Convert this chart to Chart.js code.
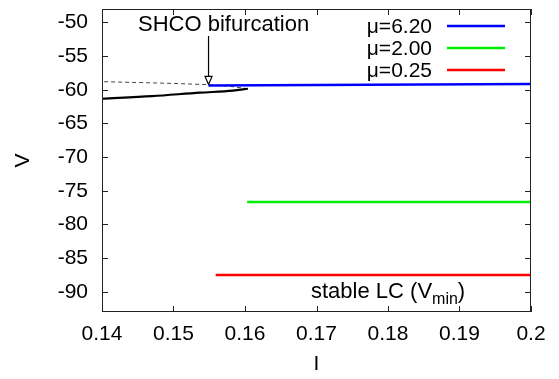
<!DOCTYPE html>
<html>
<head>
<meta charset="utf-8">
<script src="https://cdn.jsdelivr.net/npm/chart.js@4.4.0/dist/chart.umd.min.js"></script>
<style>
  html, body { margin: 0; padding: 0; background: #fff; }
</style>
</head>
<body>
<canvas id="chart" width="559" height="379"></canvas>
<script>
// Values
const xTickValues = [0.14, 0.15, 0.16, 0.17, 0.18, 0.19, 0.2];
const xTickLabels = ['0.14', '0.15', '0.16', '0.17', '0.18', '0.19', '0.2'];
const yTickValues = [-90, -85, -80, -75, -70, -65, -60, -55, -50];

// stable limit cycles (V min) for each mu
const muLabels = ['\u03bc=6.20', '\u03bc=2.00', '\u03bc=0.25'];
const blueI = [0.1549, 0.2];
const blueV = [-59.35, -59.15];
const greenI = [0.1603, 0.2];
const greenV = [-76.65, -76.65];
const redI = [0.1559, 0.2];
const redV = [-87.5, -87.5];

// fixed point branch: stable (solid) and unstable (dashed)
const stableI = [0.14, 0.147, 0.1537, 0.1583, 0.1604];
const stableV = [-61.33, -60.94, -60.43, -60.13, -59.84];
const unstableI = [0.1604, 0.158, 0.155, 0.15, 0.145, 0.14];
const unstableV = [-59.84, -59.5, -59.25, -59.05, -58.92, -58.79];

// SHCO bifurcation point
const shcoI = 0.1549;
const shcoV = -59.35;

const FONT = "'Liberation Sans', Arial, sans-serif";

function pts(xs, ys) {
    return xs.map((v, i) => ({ x: v, y: ys[i] }));
}

const overlay = {
    id: 'overlay',
    afterDraw(chart) {
        const { ctx, chartArea: a, scales: { x, y } } = chart;
        ctx.save();

        // frame
        ctx.strokeStyle = '#222';
        ctx.lineWidth = 1;
        ctx.strokeRect(a.left + 0.5, a.top + 0.5, a.right - a.left - 1, a.bottom - a.top - 1);

        // inward ticks on all four sides
        const tl = 6;
        ctx.beginPath();
        x.ticks.forEach(t => {
            const px = Math.round(x.getPixelForValue(t.value)) + 0.5;
            ctx.moveTo(px, a.bottom); ctx.lineTo(px, a.bottom - tl);
            ctx.moveTo(px, a.top); ctx.lineTo(px, a.top + tl);
        });
        y.ticks.forEach(t => {
            const py = Math.round(y.getPixelForValue(t.value)) + 0.5;
            ctx.moveTo(a.left, py); ctx.lineTo(a.left + tl, py);
            ctx.moveTo(a.right, py); ctx.lineTo(a.right - tl, py);
        });
        ctx.stroke();

        // legend: text right-aligned, sample line after it
        ctx.font = '21px ' + FONT;
        ctx.fillStyle = '#000';
        ctx.textAlign = 'right';
        ctx.textBaseline = 'middle';
        const rows = [26, 48, 70];
        chart.data.datasets.slice(0, 3).forEach((ds, i) => {
            ctx.fillText(ds.label, 432, rows[i] + 1);
            ctx.strokeStyle = ds.borderColor;
            ctx.lineWidth = 2.5;
            ctx.beginPath();
            ctx.moveTo(447, rows[i]);
            ctx.lineTo(505, rows[i]);
            ctx.stroke();
        });

        // SHCO bifurcation annotation + arrow
        const ax = x.getPixelForValue(shcoI);
        const ay = y.getPixelForValue(shcoV);
        ctx.font = '22px ' + FONT;
        ctx.textAlign = 'left';
        ctx.textBaseline = 'alphabetic';
        ctx.fillStyle = '#000';
        ctx.fillText('SHCO bifurcation', 138, 31);
        ctx.strokeStyle = '#000';
        ctx.lineWidth = 1.2;
        ctx.beginPath();
        ctx.moveTo(ax, 36);
        ctx.lineTo(ax, ay - 9);
        ctx.stroke();
        ctx.fillStyle = '#fff';
        ctx.beginPath();
        ctx.moveTo(ax - 3.5, ay - 9);
        ctx.lineTo(ax + 3.5, ay - 9);
        ctx.lineTo(ax, ay - 1);
        ctx.closePath();
        ctx.fill();
        ctx.stroke();

        // stable LC (V_min)
        ctx.fillStyle = '#000';
        ctx.font = '22px ' + FONT;
        const s1 = 'stable LC (V';
        ctx.fillText(s1, 311, 298);
        let cx = 311 + ctx.measureText(s1).width;
        ctx.font = '16px ' + FONT;
        ctx.fillText('min', cx, 304);
        cx += ctx.measureText('min').width;
        ctx.font = '22px ' + FONT;
        ctx.fillText(')', cx, 298);

        ctx.restore();
    }
};

new Chart(document.getElementById('chart'), {
    type: 'line',
    data: {
        datasets: [
            { label: muLabels[0], data: pts(blueI, blueV), borderColor: '#0000ff', borderWidth: 2.5 },
            { label: muLabels[1], data: pts(greenI, greenV), borderColor: '#00ee00', borderWidth: 2.5 },
            { label: muLabels[2], data: pts(redI, redV), borderColor: '#ff0000', borderWidth: 2.5 },
            { label: 'stable', data: pts(stableI, stableV), borderColor: '#000', borderWidth: 2.2, cubicInterpolationMode: 'monotone' },
            { label: 'unstable', data: pts(unstableI, unstableV), borderColor: '#444', borderWidth: 1, borderDash: [4, 3] }
        ]
    },
    options: {
        responsive: false,
        animation: false,
        elements: { point: { radius: 0 }, line: { tension: 0 } },
        layout: { padding: { top: 9, right: 28, left: 0, bottom: 0 } },
        plugins: { legend: { display: false }, tooltip: { enabled: false } },
        scales: {
            x: {
                type: 'linear',
                min: 0.14,
                max: 0.2,
                afterFit(s) { s.height = 67; s.paddingLeft = 0; s.paddingRight = 0; },
                afterBuildTicks(s) { s.ticks = xTickValues.map(v => ({ value: v })); },
                ticks: {
                    autoSkip: false,
                    maxRotation: 0,
                    padding: 10,
                    color: '#000',
                    font: { family: FONT, size: 21 },
                    callback: (v, i) => xTickLabels[i]
                },
                grid: { display: false, drawTicks: false },
                border: { display: false },
                title: { display: true, text: 'I', color: '#000', font: { family: FONT, size: 21 }, padding: { top: 0, bottom: 2 } }
            },
            y: {
                type: 'linear',
                min: -93,
                max: -48,
                afterFit(s) { s.width = 102; s.paddingTop = 0; s.paddingBottom = 0; },
                afterBuildTicks(s) { s.ticks = yTickValues.map(v => ({ value: v })); },
                ticks: {
                    autoSkip: false,
                    padding: 14,
                    color: '#000',
                    font: { family: FONT, size: 21 }
                },
                grid: { display: false, drawTicks: false },
                border: { display: false },
                title: { display: true, text: 'V', color: '#000', font: { family: FONT, size: 21 }, padding: { top: 11, bottom: 0 } }
            }
        }
    },
    plugins: [overlay]
});
</script>
</body>
</html>
